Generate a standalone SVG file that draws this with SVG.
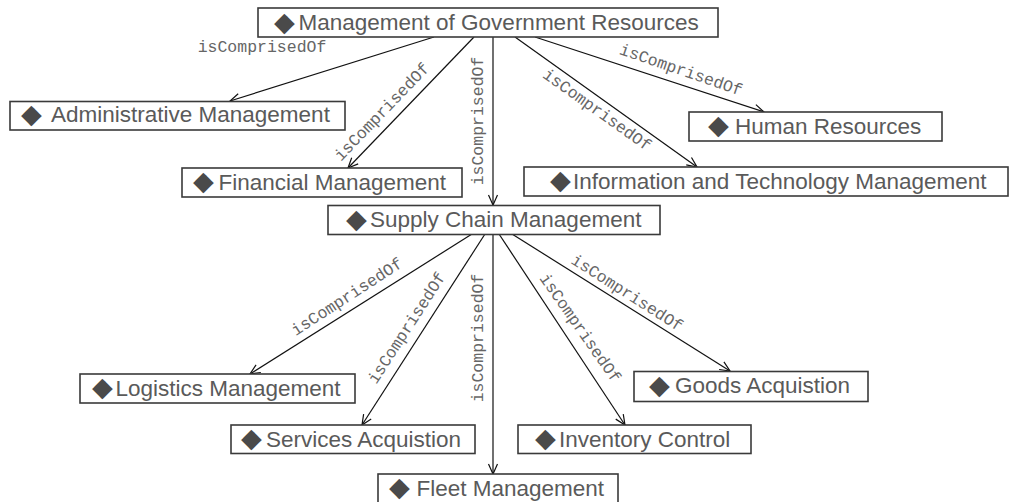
<svg xmlns="http://www.w3.org/2000/svg" width="1011" height="502" viewBox="0 0 1011 502">
<style>
.box{fill:#fff;stroke:#3a3a3a;stroke-width:1.6}
.t{font-family:"Liberation Sans",Arial,sans-serif;font-size:22.5px;fill:#5a5a5a}
.d{font-family:"DejaVu Sans",sans-serif;font-size:27px;fill:#4a4a4a}
.e{stroke:#111;stroke-width:1.2;fill:none;marker-end:url(#arr)}
.l{font-family:"Liberation Mono","DejaVu Sans Mono",monospace;font-size:16.5px;fill:#666;text-anchor:middle}
</style>
<defs>
<marker id="arr" markerUnits="userSpaceOnUse" markerWidth="14" markerHeight="14" viewBox="-12 -7 14 14" refX="0" refY="0" orient="auto">
<path d="M-10,-4.5 L0,0 L-10,4.5" fill="none" stroke="#111" stroke-width="1.2"/>
</marker>
</defs>
<g id="connectors">
<line class="e" x1="434" y1="37" x2="230" y2="101"/>
<line class="e" x1="474" y1="37" x2="348" y2="168"/>
<line class="e" x1="493" y1="37" x2="493" y2="205"/>
<line class="e" x1="515" y1="37" x2="697" y2="167"/>
<line class="e" x1="535" y1="37" x2="764" y2="112"/>
<line class="e" x1="472" y1="234" x2="250" y2="374"/>
<line class="e" x1="485" y1="234" x2="362" y2="425"/>
<line class="e" x1="493" y1="234" x2="493" y2="474"/>
<line class="e" x1="499" y1="234" x2="625" y2="425"/>
<line class="e" x1="512" y1="234" x2="730" y2="371"/>
<text class="l" x="262" y="52">isComprisedOf</text>
<text class="l" transform="translate(382,112) rotate(-46)" x="0" y="5">isComprisedOf</text>
<text class="l" transform="translate(478,121) rotate(-90)" x="0" y="5">isComprisedOf</text>
<text class="l" transform="translate(597,110) rotate(35.5)" x="0" y="5">isComprisedOf</text>
<text class="l" transform="translate(681,70) rotate(19)" x="0" y="5">isComprisedOf</text>
<text class="l" transform="translate(347,297) rotate(-33)" x="0" y="5">isComprisedOf</text>
<text class="l" transform="translate(407,328) rotate(-57)" x="0" y="5">isComprisedOf</text>
<text class="l" transform="translate(478,338) rotate(-90)" x="0" y="5">isComprisedOf</text>
<text class="l" transform="translate(580,328) rotate(55)" x="0" y="5">isComprisedOf</text>
<text class="l" transform="translate(627,293) rotate(32.5)" x="0" y="5">isComprisedOf</text>
</g>
<g id="n-mgr"><rect class="box" x="258" y="8" width="460" height="29"/><text y="30.5"><tspan class="d" x="274">◆</tspan><tspan class="t" x="298.5" y="30">Management of Government Resources</tspan></text></g>
<g id="n-admin"><rect class="box" x="10" y="101.5" width="335" height="28.5"/><text y="122.5"><tspan class="d" x="21">◆</tspan><tspan class="t" x="51" y="122">Administrative Management</tspan></text></g>
<g id="n-fin"><rect class="box" x="182" y="168" width="280" height="29"/><text y="190"><tspan class="d" x="193">◆</tspan><tspan class="t" x="218.5" y="189.5">Financial Management</tspan></text></g>
<g id="n-supply"><rect class="box" x="328" y="205.5" width="332" height="29"/><text y="227.5"><tspan class="d" x="346">◆</tspan><tspan class="t" x="370" y="227">Supply Chain Management</tspan></text></g>
<g id="n-human"><rect class="box" x="689" y="112" width="253" height="29"/><text y="134"><tspan class="d" x="708">◆</tspan><tspan class="t" x="735" y="133.5">Human Resources</tspan></text></g>
<g id="n-info"><rect class="box" x="524" y="167" width="484" height="29"/><text y="189"><tspan class="d" x="550">◆</tspan><tspan class="t" x="573" y="188.5">Information and Technology Management</tspan></text></g>
<g id="n-log"><rect class="box" x="80" y="374" width="275" height="29"/><text y="396"><tspan class="d" x="92">◆</tspan><tspan class="t" x="115.5" y="395.5">Logistics Management</tspan></text></g>
<g id="n-serv"><rect class="box" x="231" y="425" width="244" height="28.5"/><text y="447"><tspan class="d" x="241">◆</tspan><tspan class="t" x="266" y="446.5">Services Acquistion</tspan></text></g>
<g id="n-goods"><rect class="box" x="634" y="371.5" width="234" height="30"/><text y="393.5"><tspan class="d" x="649">◆</tspan><tspan class="t" x="675" y="393">Goods Acquistion</tspan></text></g>
<g id="n-inv"><rect class="box" x="518" y="425" width="233" height="28.5"/><text y="447"><tspan class="d" x="535">◆</tspan><tspan class="t" x="559" y="446.5">Inventory Control</tspan></text></g>
<g id="n-fleet"><rect class="box" x="378" y="474" width="240" height="29"/><text y="495.5"><tspan class="d" x="389">◆</tspan><tspan class="t" x="416.5" y="495.5">Fleet Management</tspan></text></g>
</svg>
